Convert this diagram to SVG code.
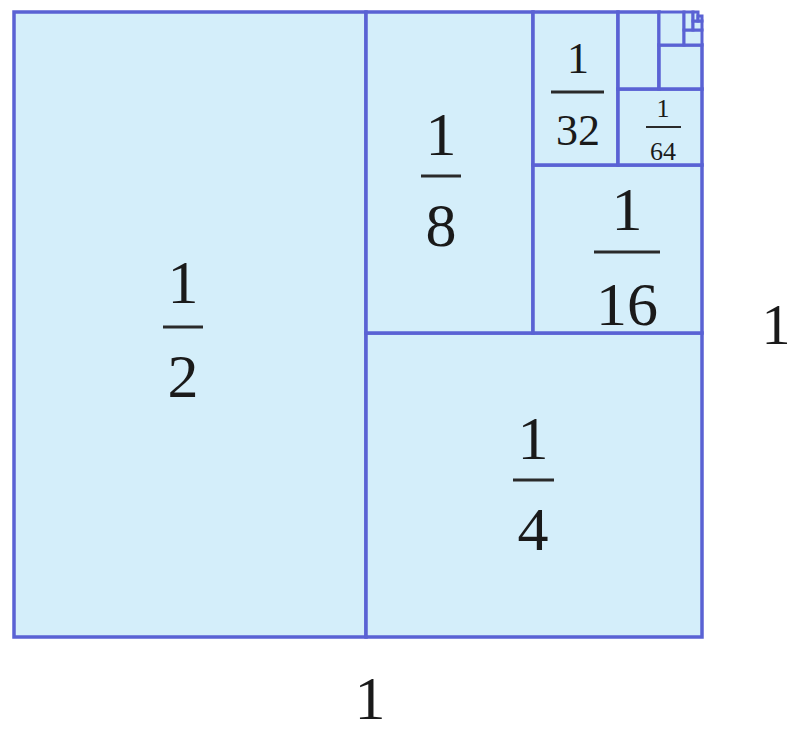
<svg xmlns="http://www.w3.org/2000/svg" width="792" height="731" viewBox="0 0 792 731">
<style>
.cell{fill:#d4eefa;stroke:#5a62d4;stroke-width:3.5}
.tiny{fill:#d4eefa;stroke:#5a62d4;stroke-width:3}
text{font-family:"Liberation Serif","Times New Roman",serif;fill:#1a1a1a;text-anchor:middle}
.bar{stroke:#2a2a2a;stroke-width:3}
.L{font-size:62px}
.M{font-size:44px}
.S{font-size:26px}
</style>
<rect x="0" y="0" width="792" height="731" fill="#ffffff"/>
<g id="half"><rect class="cell" x="14" y="12" width="352" height="625"/>
<text class="L" x="183" y="303">1</text><line class="bar" x1="163" y1="327" x2="203" y2="327"/><text class="L" x="183" y="397">2</text></g>
<g id="quarter"><rect class="cell" x="366" y="333" width="336" height="304"/>
<text class="L" x="533" y="459">1</text><line class="bar" x1="513" y1="480" x2="554" y2="480"/><text class="L" x="533" y="550">4</text></g>
<g id="eighth"><rect class="cell" x="366" y="12" width="167" height="321"/>
<text class="L" x="441" y="155">1</text><line class="bar" x1="421" y1="176" x2="461" y2="176"/><text class="L" x="441" y="246">8</text></g>
<g id="sixteenth"><rect class="cell" x="533" y="165" width="169" height="168"/>
<text class="L" x="627" y="230">1</text><line class="bar" x1="594" y1="252" x2="660" y2="252"/><text class="L" x="627" y="325">16</text></g>
<g id="thirtysecond"><rect class="cell" x="533" y="12" width="85" height="153"/>
<text class="M" x="578" y="73">1</text><line class="bar" x1="551" y1="92" x2="604" y2="92"/><text class="M" x="578" y="145">32</text></g>
<g id="sixtyfourth"><rect class="cell" x="618" y="89" width="84" height="76"/>
<text class="S" x="663" y="117">1</text><line class="bar" x1="646" y1="127" x2="681" y2="127" style="stroke-width:2"/><text class="S" x="663" y="160">64</text></g>
<g id="smaller">
<rect class="cell" x="618" y="12" width="41" height="77"/>
<rect class="cell" x="659" y="45" width="43" height="44"/>
<rect class="tiny" x="659" y="12" width="25" height="33"/>
<rect class="tiny" x="684" y="30" width="18" height="15"/>
<rect class="tiny" x="684" y="12" width="9" height="18"/>
<rect class="tiny" x="693" y="21" width="9" height="9"/>
<rect class="tiny" x="693" y="12" width="5" height="9"/>
<rect class="tiny" x="698" y="16" width="4" height="5"/>
</g>
<g id="labels">
<text class="L" x="370" y="719">1</text>
<text class="L" x="776" y="344" style="font-size:58px">1</text>
</g>
</svg>
